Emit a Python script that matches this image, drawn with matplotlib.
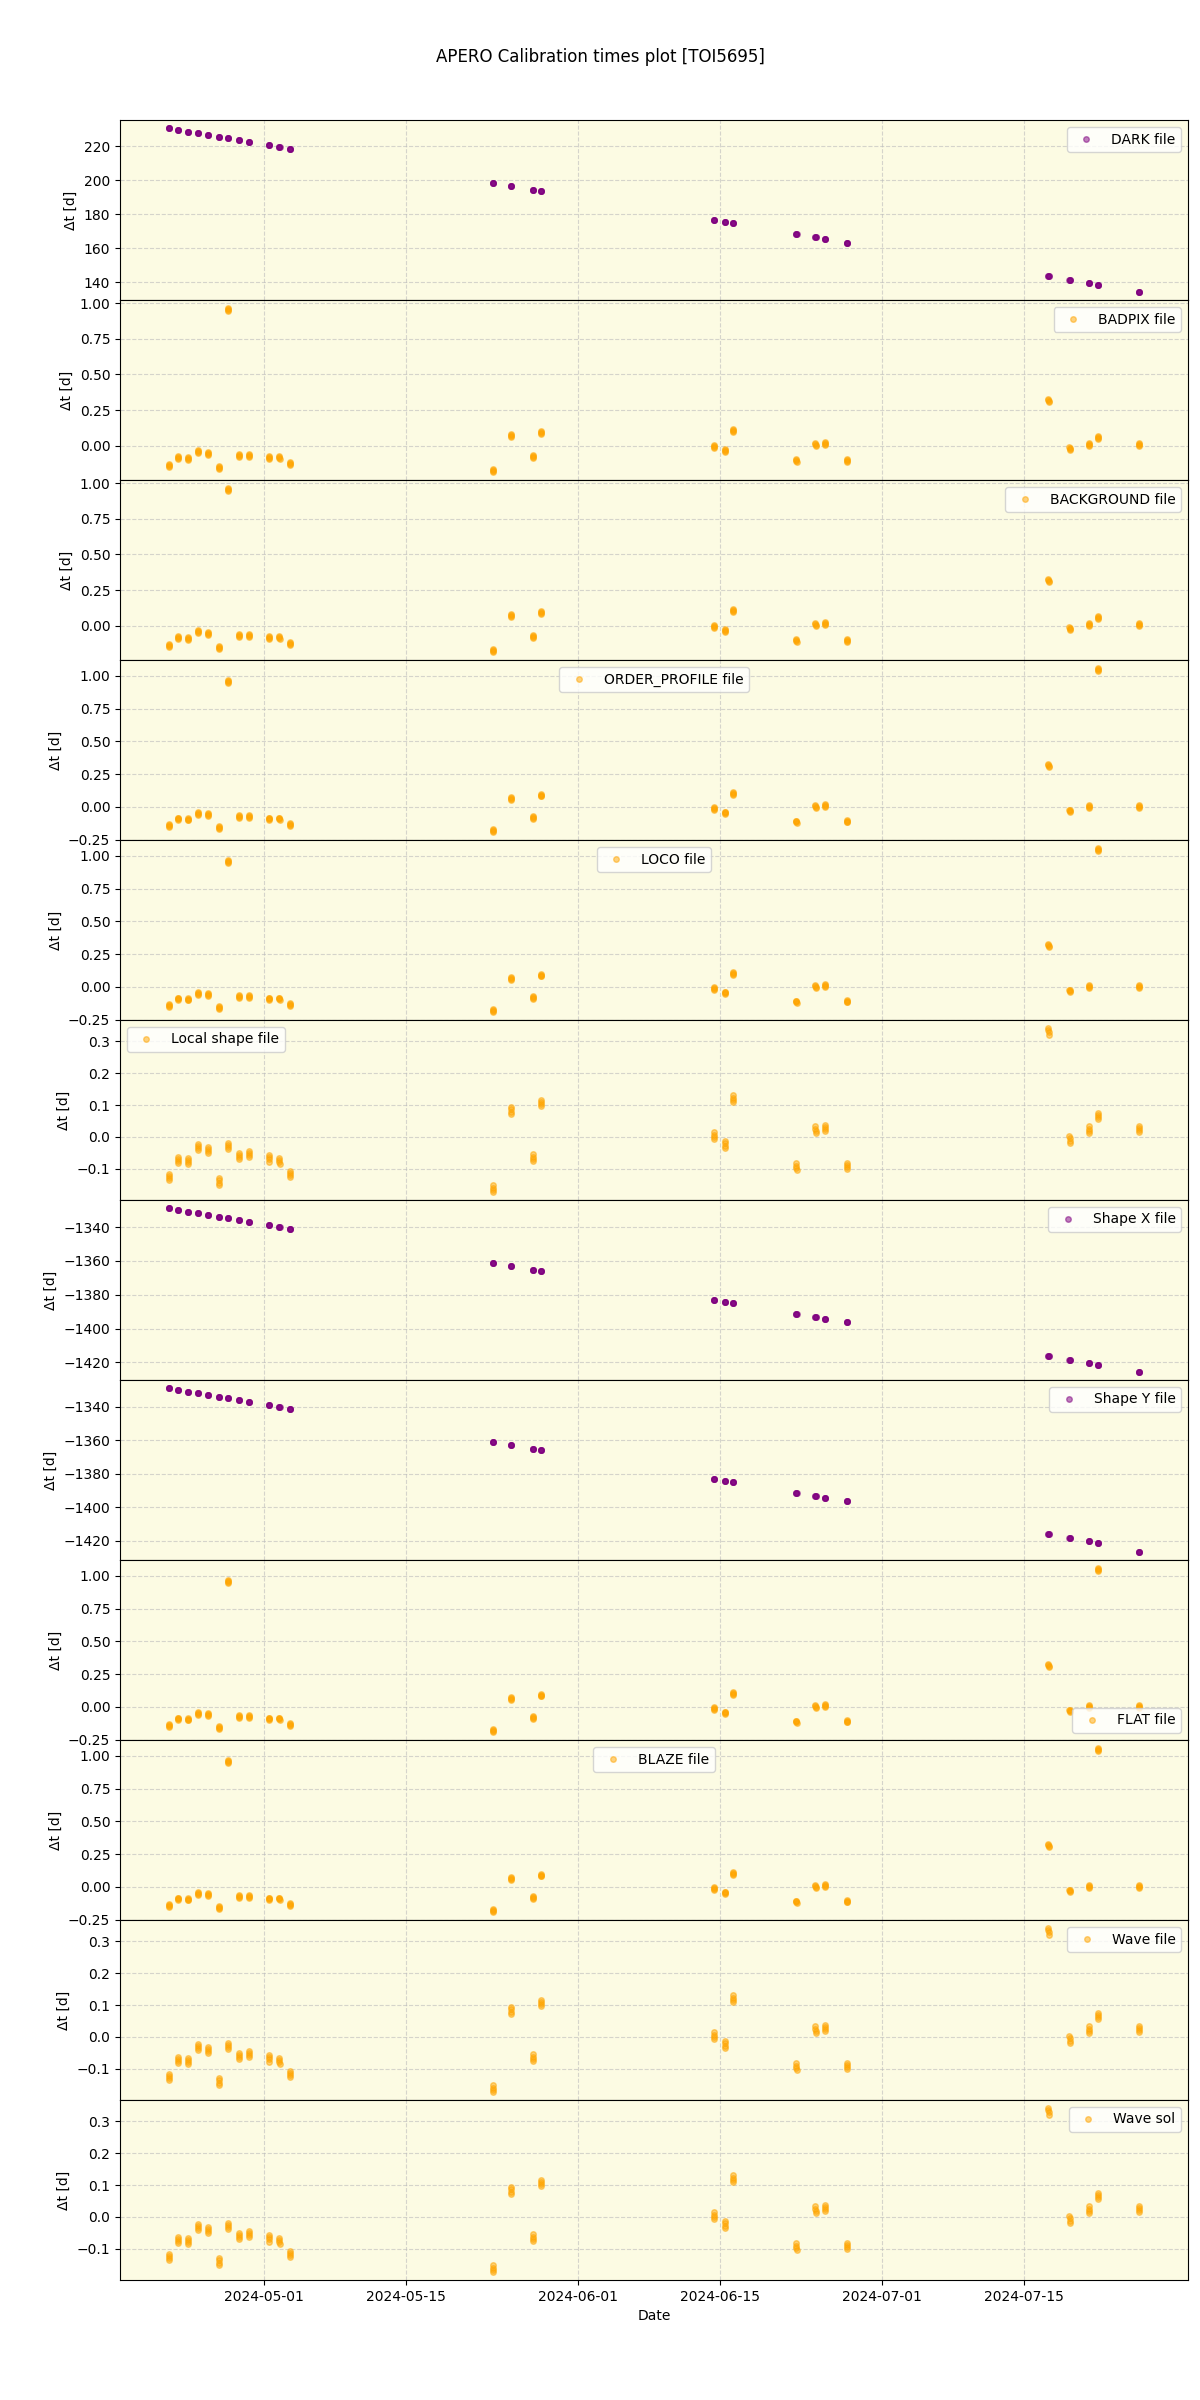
import numpy as np
import pandas as pd
import matplotlib
matplotlib.use("Agg")
import matplotlib.pyplot as plt
import matplotlib.dates as mdates

# ── observation nights (one cluster of exposures per night) ────────────────
night_dates = pd.to_datetime([
    "2024-04-21 13:00", "2024-04-22 11:15", "2024-04-23 11:00", "2024-04-24 09:50",
    "2024-04-25 09:35", "2024-04-26 13:10", "2024-04-27 09:50", "2024-04-28 12:00",
    "2024-04-29 11:45", "2024-05-01 11:00", "2024-05-02 11:30", "2024-05-03 12:00",
    "2024-05-23 13:25", "2024-05-25 09:10", "2024-05-27 11:30", "2024-05-28 07:10",
    "2024-06-14 09:20", "2024-06-15 11:00", "2024-06-16 07:00", "2024-06-22 12:45",
    "2024-06-24 09:50", "2024-06-25 08:10", "2024-06-27 13:25", "2024-07-17 10:05",
    "2024-07-19 12:00", "2024-07-21 10:20", "2024-07-22 08:10", "2024-07-26 09:20",
])

# exposure times within a night, relative to the night's mid time [days]
exposure_offsets = [-0.010, -0.0035, 0.0035, 0.010]

# ── Δt per night (cluster centre) for each calibration file ─────────────────
dark_dt = [230.6, 229.4, 228.2, 227.6, 226.5, 225.3, 224.7, 223.5, 222.4, 220.6,
           219.4, 218.2, 198.2, 196.5, 194.1, 193.5, 176.5, 175.3, 174.7, 168.2,
           166.5, 165.3, 163.3, 143.5, 141.2, 139.4, 138.2, 134.3]

badpix_dt = [-0.140, -0.084, -0.089, -0.042, -0.054, -0.155, 0.955, -0.070, -0.066, -0.084,
             -0.084, -0.124, -0.173, 0.070, -0.077, 0.094, -0.007, -0.035, 0.108, -0.103,
             0.009, 0.016, -0.103, 0.318, -0.019, 0.009, 0.059, 0.009]

background_dt = [-0.140, -0.084, -0.089, -0.042, -0.054, -0.155, 0.955, -0.070, -0.066, -0.084,
                 -0.084, -0.124, -0.173, 0.070, -0.077, 0.094, -0.007, -0.035, 0.108, -0.103,
                 0.009, 0.016, -0.103, 0.318, -0.019, 0.009, 0.059, 0.009]

order_profile_dt = [-0.145, -0.092, -0.094, -0.051, -0.059, -0.160, 0.954, -0.076, -0.076, -0.092,
                    -0.092, -0.135, -0.181, 0.061, -0.084, 0.089, -0.015, -0.046, 0.102, -0.115,
                    0.003, 0.010, -0.109, 0.313, -0.031, 0.003, 1.048, 0.003]

local_shape_dt = [-0.126, -0.072, -0.075, -0.031, -0.040, -0.140, -0.028, -0.059, -0.054, -0.067,
                  -0.075, -0.116, -0.162, 0.083, -0.065, 0.107, 0.004, -0.024, 0.120, -0.093,
                  0.023, 0.028, -0.091, 0.331, -0.008, 0.023, 0.066, 0.025]

shape_x_dt = [-1328.8, -1330.0, -1331.2, -1331.7, -1332.9, -1334.1, -1334.7, -1335.9,
              -1337.1, -1338.8, -1340.0, -1341.2, -1361.2, -1363.0, -1365.3, -1365.9,
              -1383.0, -1384.2, -1384.8, -1391.3, -1393.0, -1394.2, -1396.2, -1416.0,
              -1418.4, -1420.2, -1421.3, -1425.5]

shape_y_dt = [-1328.8, -1330.0, -1331.2, -1331.7, -1332.9, -1334.1, -1334.7, -1335.9,
              -1337.1, -1338.8, -1340.0, -1341.2, -1361.2, -1363.0, -1365.3, -1365.9,
              -1383.0, -1384.2, -1384.8, -1391.3, -1393.0, -1394.2, -1396.2, -1416.0,
              -1418.4, -1420.2, -1421.5, -1426.5]

# panel order: label, values, colour, legend location
panels = [
    ("DARK file",          dark_dt,          "purple", "upper right"),
    ("BADPIX file",        badpix_dt,        "orange", "upper right"),
    ("BACKGROUND file",    background_dt,    "orange", "upper right"),
    ("ORDER_PROFILE file", order_profile_dt, "orange", "upper center"),
    ("LOCO file",          order_profile_dt, "orange", "upper center"),
    ("Local shape file",   local_shape_dt,   "orange", "upper left"),
    ("Shape X file",       shape_x_dt,       "purple", "upper right"),
    ("Shape Y file",       shape_y_dt,       "purple", "upper right"),
    ("FLAT file",          order_profile_dt, "orange", "lower right"),
    ("BLAZE file",         order_profile_dt, "orange", "upper center"),
    ("Wave file",          local_shape_dt,   "orange", "upper right"),
    ("Wave sol",           local_shape_dt,   "orange", "upper right"),
]

# ── plot ────────────────────────────────────────────────────────────────────
fig, axes = plt.subplots(len(panels), 1, figsize=(12, 24), sharex=True)
fig.subplots_adjust(left=0.1, right=0.99, top=0.95, bottom=0.05, hspace=0)
fig.suptitle("APERO Calibration times plot [TOI5695]", fontsize=12)

for ax, (label, values, color, loc) in zip(axes, panels):
    xs, ys = [], []
    for d, v in zip(night_dates, values):
        for off in exposure_offsets:
            xs.append(d + pd.Timedelta(days=off))
            ys.append(v - off)
    ax.plot(xs, ys, "o", ms=4, color=color, alpha=0.5, label=label)
    ax.set_facecolor("#fcfbe3")
    ax.grid(True, linestyle="--", color="#bbbbbb", alpha=0.6)
    ax.set_axisbelow(True)
    ax.set_ylabel("Δt [d]")
    ax.legend(loc=loc)

axes[-1].xaxis.set_major_locator(mdates.DayLocator(bymonthday=[1, 15]))
axes[-1].xaxis.set_major_formatter(mdates.DateFormatter("%Y-%m-%d"))
axes[-1].set_xlabel("Date")

plt.savefig("out.png", dpi=100, facecolor="white")
